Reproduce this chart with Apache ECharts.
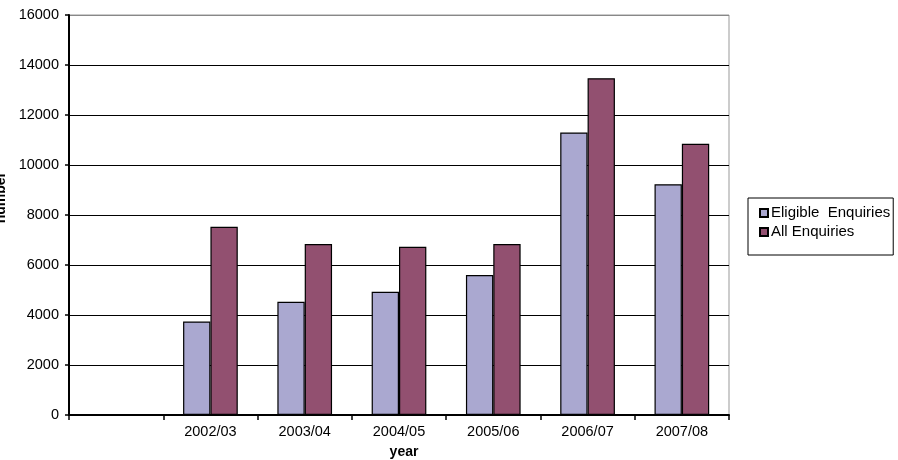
<!DOCTYPE html>
<html>
<head>
<meta charset="utf-8">
<script src="https://cdn.jsdelivr.net/npm/echarts@6/dist/echarts.min.js"></script>
<style>
html,body{margin:0;padding:0;background:#fff;}
#chart{width:898px;height:460px;}
</style>
</head>
<body>
<div id="chart"></div>
<script>
var categories = ['', '2002/03', '2003/04', '2004/05', '2005/06', '2006/07', '2007/08'];
var eligibleEnquiries = [null, 3740, 4530, 4930, 5600, 11300, 9230];
var allEnquiries = [null, 7530, 6840, 6730, 6840, 13470, 10850];
var yTicks = [0, 2000, 4000, 6000, 8000, 10000, 12000, 14000, 16000];

var chart = echarts.init(document.getElementById('chart'));
var font = 'Arial, "Liberation Sans", sans-serif';
var splitColors = yTicks.map(function (v, i) { return i === yTicks.length - 1 ? '#888888' : '#000000'; });
chart.setOption({
  animation: false,
  backgroundColor: '#ffffff',
  textStyle: {fontFamily: font},
  grid: {left: 69, right: 169, top: 15, bottom: 45, containLabel: false, outerBoundsMode: 'none',
         show: true, borderColor: '#999999', borderWidth: 1, backgroundColor: 'transparent'},
  legend: {
    orient: 'vertical', left: 748, top: 198,
    padding: [7, 3, 15, 11],
    borderColor: '#000', borderWidth: 1,
    itemWidth: 8, itemHeight: 8, itemGap: 3, icon: 'rect',
    textStyle: {fontSize: 15, color: '#000', fontFamily: font, lineHeight: 16, padding: [0, 0, 0, -2]},
    data: ['Eligible  Enquiries', 'All Enquiries']
  },
  xAxis: {
    type: 'category', data: categories,
    name: 'year', nameLocation: 'middle', nameGap: 30,
    nameTextStyle: {fontSize: 14, fontWeight: 'bold', color: '#000', fontFamily: font, padding: [0, 0, 0, 10]},
    axisLine: {lineStyle: {color: '#000', width: 2}},
    axisTick: {show: true, length: 5, lineStyle: {color: '#000', width: 1.5}},
    axisLabel: {fontSize: 14.5, color: '#000', margin: 9, fontFamily: font},
    splitLine: {show: false}
  },
  yAxis: {
    type: 'value', min: yTicks[0], max: yTicks[yTicks.length - 1], interval: 2000,
    axisLine: {show: true, lineStyle: {color: '#000', width: 2}},
    axisTick: {show: true, length: 4, lineStyle: {color: '#000', width: 1.5}},
    axisLabel: {fontSize: 14.5, color: '#000', margin: 10, fontFamily: font,
                formatter: function (v) { return String(v); }},
    splitLine: {show: true, lineStyle: {color: splitColors, width: 1.2}}
  },
  graphic: [{
    type: 'text', left: -6, top: 172, rotation: Math.PI / 2,
    style: {text: 'number', font: 'bold 14px ' + font, fill: '#000'}
  }],
  series: [
    {
      name: 'Eligible  Enquiries', type: 'bar', data: eligibleEnquiries,
      barGap: '0%', barCategoryGap: '42%',
      itemStyle: {color: '#aaa8d0', borderColor: '#000', borderWidth: 1.2}
    },
    {
      name: 'All Enquiries', type: 'bar', data: allEnquiries,
      itemStyle: {color: '#925070', borderColor: '#000', borderWidth: 1.2}
    }
  ]
});
</script>
</body>
</html>
